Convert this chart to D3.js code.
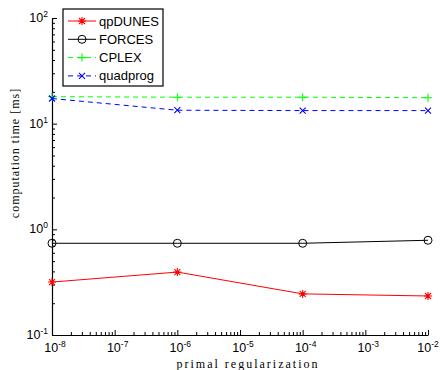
<!DOCTYPE html>
<html>
<head>
<meta charset="utf-8">
<script src="https://cdn.jsdelivr.net/npm/d3@7"></script>
<style>
  body { margin: 0; background: #fff; }
  svg { display: block; }
</style>
</head>
<body>
<div id="chart"></div>
<script>
// data
const regularization = [1e-8, 1e-6, 1e-4, 1e-2];
const qpDUNES = [0.317, 0.394, 0.245, 0.234];
const FORCES = [0.738, 0.738, 0.738, 0.788];
const CPLEX = [18.0, 17.8, 17.8, 17.6];
const quadprog = [17.3, 13.4, 13.3, 13.3];

const xTickExps = [-8, -7, -6, -5, -4, -3, -2];
const yTickExps = [-1, 0, 1, 2];

const series = [
  { name: "qpDUNES", values: qpDUNES, color: "#ff0000", dash: null, marker: "star" },
  { name: "FORCES", values: FORCES, color: "#000000", dash: null, marker: "circle" },
  { name: "CPLEX", values: CPLEX, color: "#00ff00", dash: "5,4", marker: "plus" },
  { name: "quadprog", values: quadprog, color: "#0000ff", dash: "5,4", marker: "cross" }
];

const width = 440, height = 370;
const margin = { left: 52, right: 12, top: 18, bottom: 35 };

const svg = d3.select("#chart").append("svg")
  .attr("width", width)
  .attr("height", height);

const x = d3.scaleLog()
  .domain([1e-8, 1e-2])
  .range([margin.left, width - margin.right]);

const y = d3.scaleLog()
  .domain([1e-1, 1e2])
  .range([height - margin.bottom, margin.top]);

// minor ticks: 2..9 times each decade
function minorTicks(lo, hi) {
  let out = [];
  for (let e = lo; e < hi; e++) {
    for (let m = 2; m <= 9; m++) out.push(m * Math.pow(10, e));
  }
  return out;
}

const tickFont = "'Liberation Sans', Arial, sans-serif";
const labelFont = "'Liberation Serif', 'DejaVu Serif', serif";

// x axis
const xAxisG = svg.append("g").attr("transform", "translate(0," + y.range()[0] + ")");
xAxisG.call(d3.axisBottom(x).tickValues(minorTicks(-8, -2)).tickSize(-3).tickFormat(() => ""));
xAxisG.call(g => g.selectAll(".domain").remove());
const xMajor = svg.append("g").attr("transform", "translate(0," + y.range()[0] + ")");
xMajor.call(d3.axisBottom(x).tickValues(xTickExps.map(e => Math.pow(10, e))).tickSize(-5).tickSizeOuter(0).tickFormat(() => ""));

// y axis
const yAxisG = svg.append("g").attr("transform", "translate(" + x.range()[0] + ",0)");
yAxisG.call(d3.axisLeft(y).tickValues(minorTicks(-1, 2)).tickSize(-3).tickFormat(() => ""));
yAxisG.call(g => g.selectAll(".domain").remove());
const yMajor = svg.append("g").attr("transform", "translate(" + x.range()[0] + ",0)");
yMajor.call(d3.axisLeft(y).tickValues(yTickExps.map(e => Math.pow(10, e))).tickSize(-5).tickSizeOuter(0).tickFormat(() => ""));

svg.selectAll(".domain").attr("stroke", "#000").attr("stroke-width", 1.2);
svg.selectAll(".tick line").attr("stroke", "#000");

// tick labels with superscripts
function powLabel(sel, e) {
  sel.append("tspan").text("10");
  sel.append("tspan").attr("dy", -5).attr("font-size", 8.5).text(e);
}

xTickExps.forEach(e => {
  const t = svg.append("text")
    .attr("x", x(Math.pow(10, e)) + (e === -2 ? 0 : 3))
    .attr("y", y.range()[0] + 17)
    .attr("text-anchor", "middle")
    .attr("font-family", tickFont)
    .attr("font-size", 12.5);
  powLabel(t, e);
});

yTickExps.forEach(e => {
  const t = svg.append("text")
    .attr("x", x.range()[0] - 4)
    .attr("y", y(Math.pow(10, e)) + 4)
    .attr("text-anchor", "end")
    .attr("font-family", tickFont)
    .attr("font-size", 12.5);
  powLabel(t, e);
});

// axis titles
svg.append("text")
  .attr("x", 248)
  .attr("y", height - 2)
  .attr("text-anchor", "middle")
  .attr("font-family", labelFont)
  .attr("font-size", 12)
  .attr("letter-spacing", 2.0)
  .text("primal regularization");

svg.append("text")
  .attr("transform", "translate(19,153) rotate(-90)")
  .attr("text-anchor", "middle")
  .attr("font-family", labelFont)
  .attr("font-size", 12)
  .attr("letter-spacing", 1.0)
  .text("computation time [ms]");

// markers
function drawMarker(g, type, cx, cy, color) {
  if (type === "circle") {
    g.append("circle").attr("cx", cx).attr("cy", cy).attr("r", 4)
      .attr("fill", "none").attr("stroke", color).attr("stroke-width", 1);
  } else {
    let s = 4, d = 3;
    let path = "";
    if (type === "plus" || type === "star") path += `M${cx - s},${cy}H${cx + s}M${cx},${cy - s}V${cy + s}`;
    if (type === "cross" || type === "star") path += `M${cx - d},${cy - d}L${cx + d},${cy + d}M${cx - d},${cy + d}L${cx + d},${cy - d}`;
    g.append("path").attr("d", path).attr("stroke", color).attr("stroke-width", 1.1).attr("fill", "none");
  }
}

const line = d3.line()
  .x(d => x(d[0]))
  .y(d => y(d[1]));

const plot = svg.append("g");
series.forEach(s => {
  const pts = regularization.map((r, i) => [r, s.values[i]]);
  plot.append("path")
    .datum(pts)
    .attr("d", line)
    .attr("fill", "none")
    .attr("stroke", s.color)
    .attr("stroke-width", 1)
    .attr("stroke-dasharray", s.dash);
  pts.forEach(p => drawMarker(plot, s.marker, x(p[0]), y(p[1]), s.color));
});

// legend
const legend = svg.append("g").attr("transform", "translate(63,9)");
legend.append("rect")
  .attr("width", 100).attr("height", 77)
  .attr("fill", "#fff").attr("stroke", "#000").attr("stroke-width", 1.2);
series.forEach((s, i) => {
  const ly = 12 + i * 18.3;
  legend.append("line")
    .attr("x1", 5).attr("x2", 33).attr("y1", ly).attr("y2", ly)
    .attr("stroke", s.color).attr("stroke-width", 1)
    .attr("stroke-dasharray", s.dash);
  drawMarker(legend, s.marker, 19, ly, s.color);
  legend.append("text")
    .attr("x", 36).attr("y", ly + 4.5)
    .attr("font-family", tickFont)
    .attr("font-size", 13)
    .text(s.name);
});
</script>
</body>
</html>
